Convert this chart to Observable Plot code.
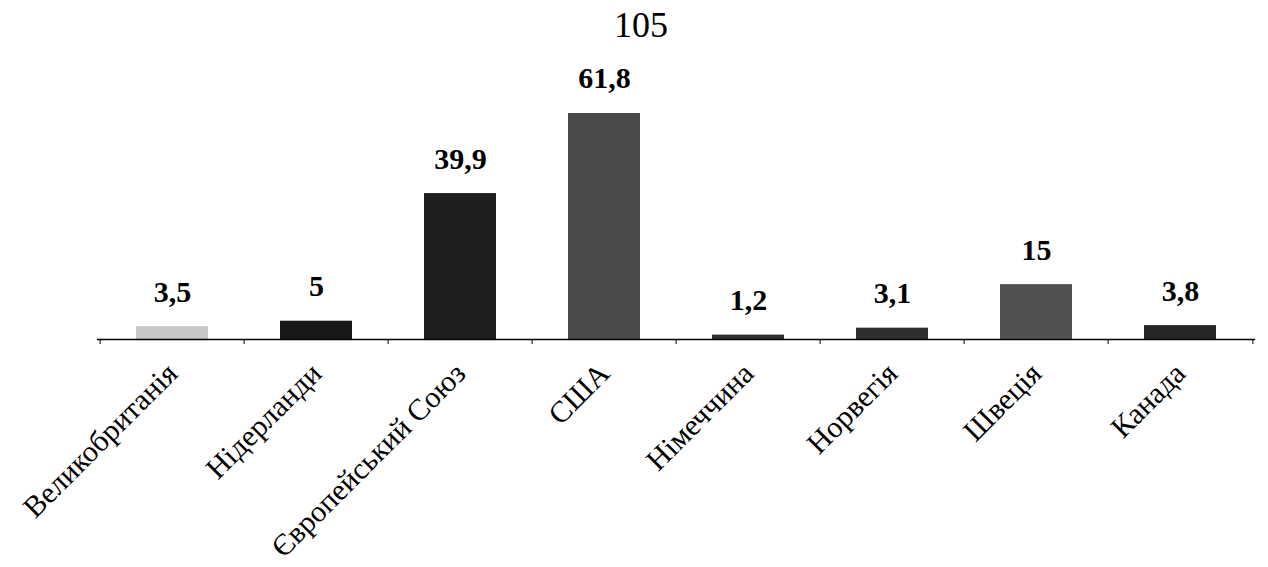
<!DOCTYPE html>
<html><head><meta charset="utf-8">
<script src="https://cdn.jsdelivr.net/npm/d3@7"></script>
<script src="https://cdn.jsdelivr.net/npm/@observablehq/plot@0.6"></script>
<style>
body{margin:0;background:#fff;}
#title{font-family:"Liberation Serif",serif;font-size:36px;line-height:36px;height:48px;padding-top:7px;padding-left:14px;width:1254px;text-align:center;color:#000;}
</style></head><body>
<div id="title">105</div>
<div id="chart"></div>
<script>
const categories = ["Великобританія","Нідерланди","Європейський Союз","США","Німеччина","Норвегія","Швеція","Канада"];
const values = [3.5, 5, 39.9, 61.8, 1.2, 3.1, 15, 3.8];
const valueLabels = ["3,5","5","39,9","61,8","1,2","3,1","15","3,8"];
const barColors = ["#c8c8c8","#181818","#1e1e1e","#4a4a4a","#2e2e2e","#2e2e2e","#505050","#262626"];

const data = categories.map((c, i) => ({category: c, value: values[i], label: valueLabels[i]}));
const serif = "Liberation Serif, Times New Roman, serif";

const chart = Plot.plot({
  width: 1268,
  height: 512,
  marginLeft: 97,
  marginRight: 13,
  marginTop: 28,
  marginBottom: 228,
  style: {background: "#fff", color: "#000", fontFamily: serif},
  x: {domain: categories, paddingInner: 0.5, paddingOuter: 0.25, label: null},
  y: {domain: [0, 70], axis: null},
  color: {domain: categories, range: barColors},
  marks: [
    Plot.barY(data, {x: "category", y: "value", fill: "category"}),
    Plot.ruleY([0], {stroke: "#000", strokeWidth: 1.5}),
    Plot.axisX({tickSize: 5, tickFormat: () => "", dx: -72.4, stroke: "#000"}),
    Plot.axisX([categories[categories.length - 1]], {tickSize: 5, tickFormat: () => "", dx: 72.4, stroke: "#000"}),
    Plot.axisX({tickSize: 0, tickPadding: 29, tickRotate: -45, fontSize: 30, fontFamily: serif, fill: "#000"}),
    Plot.text(data, {x: "category", y: "value", text: "label", dy: -25, lineAnchor: "bottom", fontSize: 30, fontWeight: "bold", fontFamily: serif, fill: "#000"})
  ]
});
document.getElementById("chart").appendChild(chart);
</script>
</body></html>
